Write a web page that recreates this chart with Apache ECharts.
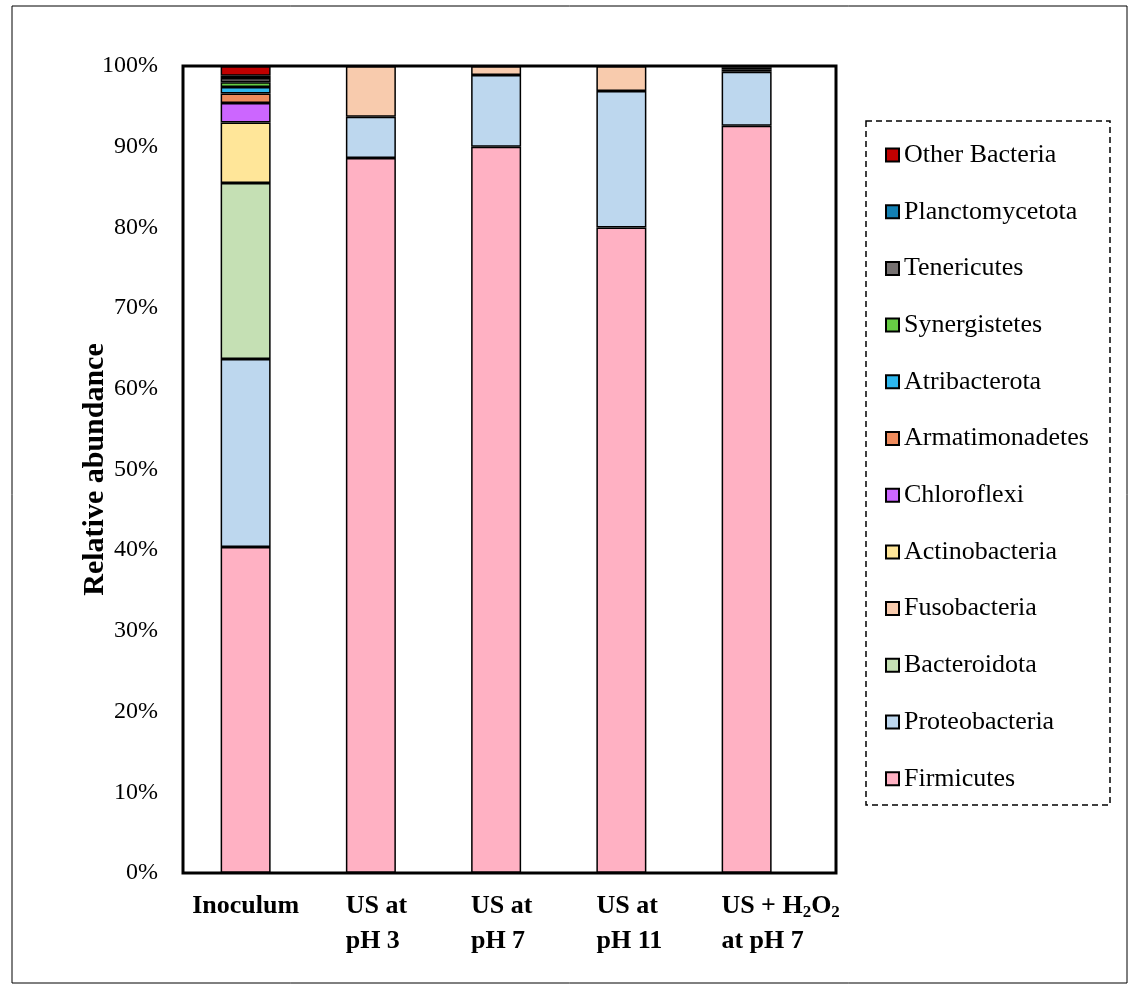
<!DOCTYPE html>
<html><head><meta charset="utf-8">
<script src="https://cdn.jsdelivr.net/npm/echarts@6/dist/echarts.min.js"></script>
<style>html,body{margin:0;padding:0;background:#fff}#c{width:1130px;height:989px}</style>
</head><body><div id="c"></div>
<script>
const categories = ['Inoculum', 'US at\npH 3', 'US at\npH 7', 'US at\npH 11', 'US + H2O2\nat pH 7'];
const yTicks = ['0%','10%','20%','30%','40%','50%','60%','70%','80%','90%','100%'];
const seriesNames = ['Firmicutes','Proteobacteria','Bacteroidota','Fusobacteria','Actinobacteria','Chloroflexi','Armatimonadetes','Atribacterota','Synergistetes','Tenericutes','Planctomycetota','Other Bacteria'];
const colors = ['#FFB1C3','#BDD7EE','#C5E0B4','#F8CBAD','#FFE699','#CC66FF','#EE8B5C','#2DB7EE','#66CC44','#767171','#1380B3','#C00000'];
const firmicutes      = [40.4, 88.6, 90.0, 80.0, 92.6];
const proteobacteria  = [23.3, 5.1, 8.9, 16.9, 6.7];
const bacteroidota    = [21.8, 0, 0, 0, 0];
const fusobacteria    = [0, 6.3, 1.1, 3.1, 0.3];
const actinobacteria  = [7.5, 0, 0, 0, 0];
const chloroflexi     = [2.4, 0, 0, 0, 0];
const armatimonadetes = [1.2, 0, 0, 0, 0];
const atribacterota   = [0.8, 0, 0, 0, 0];
const synergistetes   = [0.6, 0, 0, 0, 0];
const tenericutes     = [0.5, 0, 0, 0, 0.2];
const planctomycetota = [0.3, 0, 0, 0, 0];
const otherBacteria   = [1.2, 0, 0, 0, 0.2];
const seriesData = [firmicutes, proteobacteria, bacteroidota, fusobacteria, actinobacteria, chloroflexi, armatimonadetes, atribacterota, synergistetes, tenericutes, planctomycetota, otherBacteria];

const FONT = '"Liberation Serif","Times New Roman",serif';
const XFS = 26, SUBFS = 17, BARW = 50;
const PLOT = { left: 183, top: 66, right: 836, bottom: 873 };
const chart = echarts.init(document.getElementById('c'), null, {renderer:'canvas'});

// measure text widths so multi-line labels start at the bar's left edge (as in the reference)
const ctx = document.createElement('canvas').getContext('2d');
function tw(s, fs) { ctx.font = 'bold ' + fs + 'px ' + FONT; return ctx.measureText(s).width; }
function lineWidth(line) {
  if (line.indexOf('H2O2') >= 0) {
    const p = line.split('H2O2');
    return tw(p[0] + 'H', XFS) + tw('O', XFS) + 2 * tw('2', SUBFS) + tw(p[1] || '', XFS);
  }
  return tw(line, XFS);
}
const richStyles = {
  b: { fontFamily: FONT, fontSize: XFS, fontWeight: 'bold', color: '#000', lineHeight: 35, align: 'left' },
  s: { fontFamily: FONT, fontSize: SUBFS, fontWeight: 'bold', color: '#000', lineHeight: 17, align: 'left', verticalAlign: 'bottom', padding: [0,0,3,0] }
};
function fmtCat(v, idx) {
  const lines = v.split('\n');
  let spacer = 0;
  if (lines.length > 1) {
    const maxW = Math.max.apply(null, lines.map(lineWidth));
    spacer = Math.max(0, Math.round(maxW - BARW));
    richStyles['sp' + idx] = { width: spacer, lineHeight: 35, align: 'left' };
  }
  return lines.map(line => {
    const pre = spacer ? '{sp' + idx + '| }' : '';
    if (line.indexOf('H2O2') >= 0) {
      const parts = line.split('H2O2');
      return pre + '{b|' + parts[0] + 'H}{s|2}{b|O}{s|2}' + (parts[1] ? '{b|' + parts[1] + '}' : '');
    }
    return pre + '{b|' + line + '}';
  }).join('\n');
}
const catLabels = categories.map((c, i) => fmtCat(c, i));

const series = seriesNames.map((name, i) => ({
  name: name,
  type: 'bar',
  stack: 'total',
  barWidth: BARW,
  data: seriesData[i].map(v => v === 0 ? null : v),
  itemStyle: { color: colors[i], borderColor: '#000', borderWidth: 1.5 },
  emphasis: { disabled: true }
}));

chart.setOption({
  animation: false,
  backgroundColor: '#fff',
  grid: { left: PLOT.left, top: PLOT.top, width: 626.25, height: PLOT.bottom - PLOT.top, show: false },
  xAxis: {
    type: 'category',
    data: categories,
    axisLine: { show: false },
    axisTick: { show: false },
    axisLabel: {
      margin: 16,
      interval: 0,
      formatter: (v, i) => catLabels[i],
      rich: richStyles
    }
  },
  yAxis: {
    type: 'value',
    min: 0, max: 100, interval: 10,
    axisLine: { show: false },
    axisTick: { show: false },
    splitLine: { show: false },
    axisLabel: { formatter: v => yTicks[Math.round(v/10)], fontFamily: FONT, fontSize: 24, color: '#000', margin: 25 },
    name: 'Relative abundance',
    nameLocation: 'middle',
    nameRotate: 90,
    nameGap: 73,
    nameMoveOverlap: false,
    nameTextStyle: { fontFamily: FONT, fontSize: 30, fontWeight: 'bold', color: '#000' }
  },
  legend: {
    orient: 'vertical',
    left: 885,
    top: 142,
    padding: 0,
    itemWidth: 13,
    itemHeight: 13,
    itemGap: 30.7,
    icon: 'rect',
    data: seriesNames.slice().reverse(),
    textStyle: { fontFamily: FONT, fontSize: 26, color: '#000' },
    selectedMode: false
  },
  graphic: [
    { type: 'rect', silent: true, shape: { x: 12, y: 6, width: 1115, height: 977 }, style: { fill: 'none', stroke: '#000', lineWidth: 1 } },
    { type: 'rect', silent: true, z: 10, shape: { x: PLOT.left, y: PLOT.top, width: PLOT.right - PLOT.left, height: PLOT.bottom - PLOT.top }, style: { fill: 'none', stroke: '#000', lineWidth: 3 } },
    { type: 'rect', silent: true, shape: { x: 866, y: 121, width: 244, height: 684 }, style: { fill: 'none', stroke: '#000', lineWidth: 1.5, lineDash: [6, 4] } }
  ],
  series: series
});
</script></body></html>
